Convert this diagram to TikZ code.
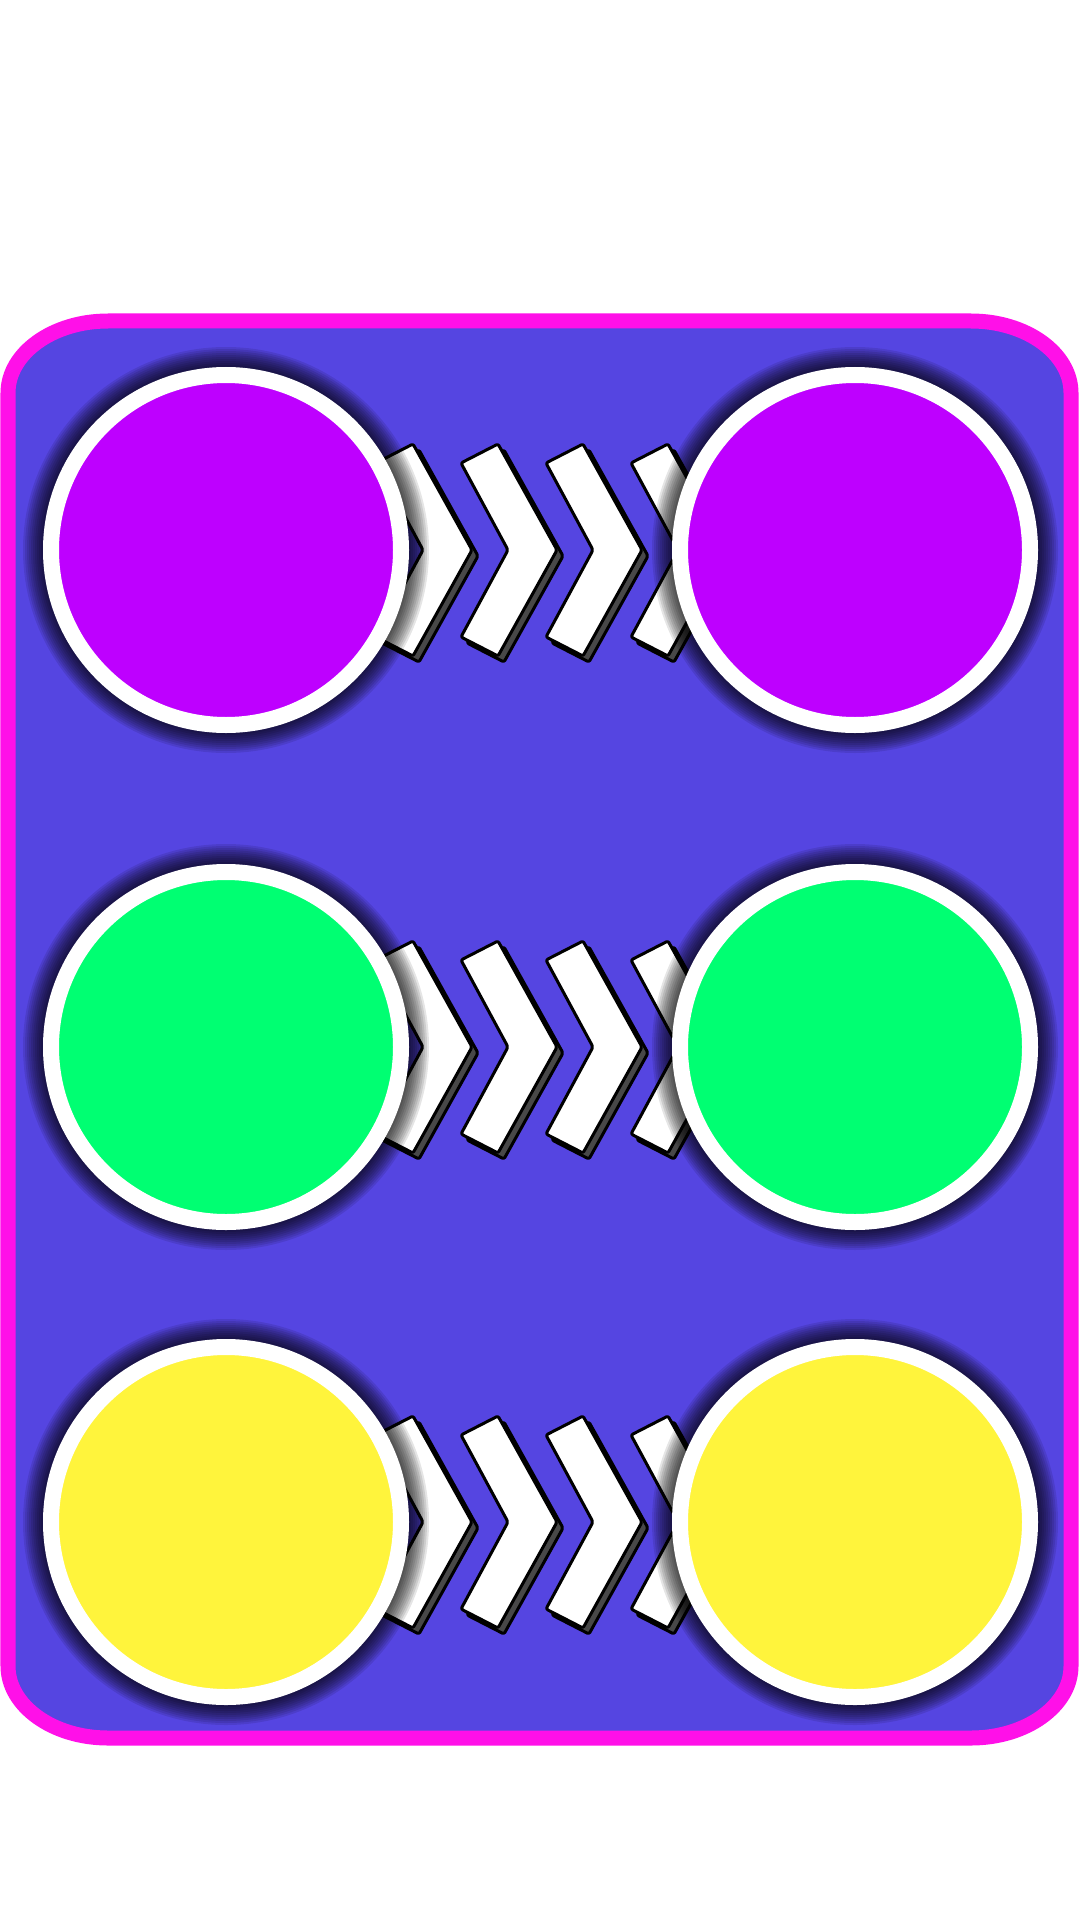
\documentclass[tikz,border=0pt]{standalone}
\usetikzlibrary{calc}
\definecolor{bgblue}{RGB}{85,69,225}
\definecolor{magborder}{RGB}{255,16,232}
\definecolor{cviolet}{RGB}{190,0,255}
\definecolor{cgreen}{RGB}{0,255,114}
\definecolor{cyellow}{RGB}{255,244,60}
\definecolor{chside}{RGB}{72,72,72}
\tikzset{
  dot/.style={circle, draw=white, line width=8pt, minimum size=175pt, inner sep=0pt, outer sep=0pt},
  chevfront/.style={fill=white, draw=black, line width=1.5pt, line join=round, rounded corners=1pt},
  chevback/.style={fill=chside, draw=black, line width=1.5pt, line join=round, rounded corners=1pt},
  chev/.pic={
    \foreach \s in {1,2,3,4,5}{
      \fill[chside, shift={(\s,\s)}] (0,-87) -- (37,-106) -- (96,0) -- (37,106) -- (0,87) -- (47,0) -- cycle;
    }
    \draw[chevback, shift={(6,6)}] (0,-87) -- (37,-106) -- (96,0) -- (37,106) -- (0,87) -- (47,0) -- cycle;
    \draw[chevfront] (0,-87) -- (37,-106) -- (96,0) -- (37,106) -- (0,87) -- (47,0) -- cycle;
  },
  shade/.style={black, fill opacity=0.1}
}
\begin{document}
\begin{tikzpicture}[x=0.5pt,y=-0.5pt]
\useasboundingbox (0,0) rectangle (1080,1920);
\fill[white] (0,0) rectangle (1080,1920);
% panel
\fill[bgblue] (108,321) -- (971,321) arc[start angle=-90, end angle=0, x radius=100, y radius=72]
  -- (1071,1666) arc[start angle=0, end angle=90, x radius=100, y radius=72]
  -- (108,1738) arc[start angle=90, end angle=180, x radius=100, y radius=72]
  -- (8,393) arc[start angle=180, end angle=270, x radius=100, y radius=72] -- cycle;
% circle centres
\coordinate (L1) at (226,550);  \coordinate (R1) at (855,550);
\coordinate (L2) at (226,1047); \coordinate (R2) at (855,1047);
\coordinate (L3) at (226,1522); \coordinate (R3) at (855,1522);
% chevrons
\foreach \r in {1,2,3}{
  \foreach \i in {0,1,2,3}{
    \pic at ($(L\r)+(150+85*\i,0)$) {chev};
  }
}
% shadows
\foreach \c in {L1,R1,L2,R2,L3,R3}{
  \foreach \k in {1,...,10}{
    \fill[shade] (\c) circle[radius=183+2*\k];
  }
}
% circles
\node[dot, fill=cviolet] (a1) at (L1) {};
\node[dot, fill=cviolet] (b1) at (R1) {};
\node[dot, fill=cgreen]  (a2) at (L2) {};
\node[dot, fill=cgreen]  (b2) at (R2) {};
\node[dot, fill=cyellow] (a3) at (L3) {};
\node[dot, fill=cyellow] (b3) at (R3) {};
% border
\draw[magborder, line width=7.5pt] (108,321) -- (971,321) arc[start angle=-90, end angle=0, x radius=100, y radius=72]
  -- (1071,1666) arc[start angle=0, end angle=90, x radius=100, y radius=72]
  -- (108,1738) arc[start angle=90, end angle=180, x radius=100, y radius=72]
  -- (8,393) arc[start angle=180, end angle=270, x radius=100, y radius=72] -- cycle;
\end{tikzpicture}
\end{document}
